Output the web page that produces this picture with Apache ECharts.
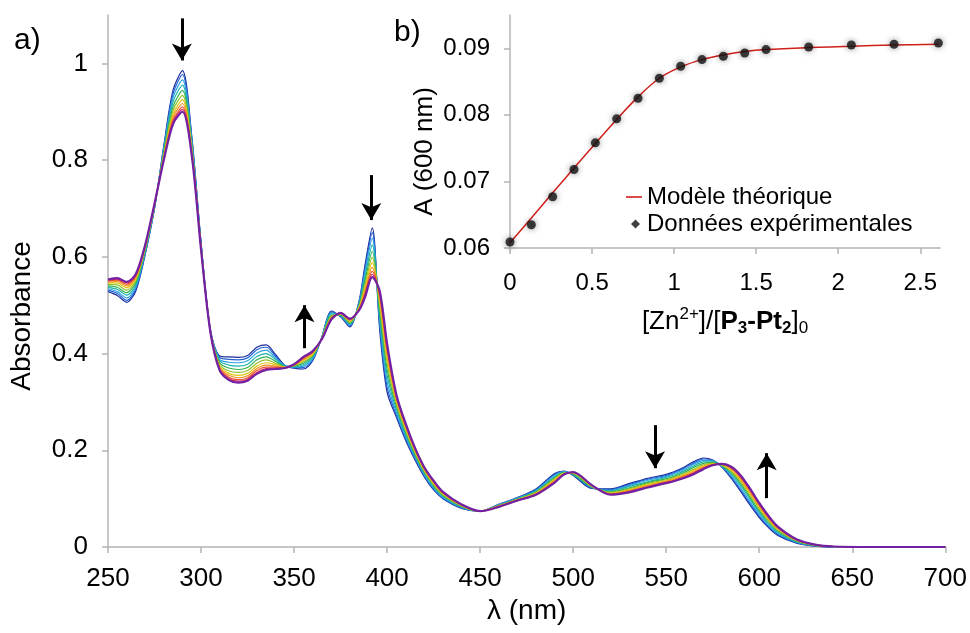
<!DOCTYPE html>
<html><head><meta charset="utf-8">
<script src="https://cdn.jsdelivr.net/npm/echarts@6/dist/echarts.min.js"></script>
<style>html,body{margin:0;padding:0;background:#fff}#chart{width:970px;height:633px}</style>
</head><body><div id="chart"></div>
<script>
const wavelengths = [250,255,260,265,270,275,280,285,290,295,300,305,310,315,320,325,330,335,340,345,350,355,360,365,370,375,380,385,388,392,396,400,405,410,415,420,425,430,440,450,460,470,480,490,495,500,510,520,530,540,550,555,560,565,570,575,580,585,590,595,600,605,610,620,630,640,660,700];

const abs00 = [.528,.520,.506,.530,.605,.700,.830,.945,.985,.850, .630,.450,.395,.393,.392,.396,.413,.418,.398,.376, .370,.368,.385,.435,.488,.476,.455,.510,.580,.660, .450,.320,.268,.220,.180,.145,.118,.100,.080,.074, .088,.102,.120,.152,.157,.148,.121,.120,.131,.142, .150,.157,.166,.177,.184,.180,.165,.142,.115,.087, .061,.040,.024,.008,.002,0,0,0];
const abs01 = [.531,.524,.510,.534,.607,.701,.827,.938,.977,.846, .629,.450,.392,.388,.387,.391,.408,.413,.395,.375, .371,.371,.387,.435,.486,.477,.457,.508,.574,.650, .458,.330,.273,.224,.183,.147,.120,.101,.081,.074, .088,.101,.119,.150,.156,.149,.122,.119,.129,.140, .148,.155,.164,.174,.182,.179,.166,.144,.118,.090, .064,.042,.026,.009,.002,0,0,0];
const abs02 = [.534,.528,.515,.538,.609,.702,.823,.930,.966,.841, .627,.449,.388,.382,.381,.385,.401,.407,.391,.375, .372,.374,.389,.434,.484,.478,.459,.506,.566,.638, .468,.342,.278,.228,.186,.149,.122,.103,.082,.074, .087,.101,.117,.148,.156,.150,.123,.117,.127,.138, .146,.153,.161,.171,.179,.178,.167,.147,.122,.094, .068,.045,.028,.010,.003,0,0,0];
const abs03 = [.537,.533,.521,.542,.612,.704,.820,.921,.955,.836, .625,.448,.385,.376,.374,.378,.394,.400,.388,.374, .373,.377,.392,.433,.482,.479,.461,.503,.557,.624, .478,.355,.284,.232,.189,.152,.125,.105,.083,.074, .086,.100,.116,.145,.155,.150,.124,.116,.125,.135, .144,.150,.158,.168,.176,.176,.167,.150,.127,.099, .072,.048,.030,.011,.003,0,0,0];
const abs04 = [.540,.537,.526,.547,.615,.705,.816,.911,.944,.831, .623,.448,.381,.370,.367,.371,.387,.393,.384,.373, .374,.380,.395,.433,.479,.480,.463,.500,.549,.611, .488,.368,.291,.237,.192,.155,.127,.107,.084,.074, .086,.099,.114,.143,.154,.151,.124,.114,.122,.133, .141,.147,.155,.165,.173,.175,.168,.154,.131,.103, .075,.052,.033,.012,.003,0,0,0];
const abs05 = [.543,.542,.531,.551,.617,.706,.812,.903,.934,.826, .621,.447,.377,.364,.361,.365,.380,.387,.380,.372, .375,.383,.397,.432,.477,.481,.465,.498,.541,.599, .498,.380,.296,.241,.195,.157,.129,.108,.085,.074, .085,.098,.113,.141,.153,.152,.125,.113,.120,.131, .139,.145,.152,.161,.170,.173,.169,.156,.135,.107, .079,.054,.035,.013,.004,.001,0,0];
const abs06 = [.546,.546,.536,.555,.619,.707,.809,.895,.925,.822, .619,.447,.374,.359,.355,.359,.374,.381,.377,.372, .376,.386,.399,.432,.475,.482,.467,.496,.534,.588, .507,.391,.301,.245,.198,.159,.131,.110,.086,.074, .085,.098,.111,.139,.152,.153,.126,.111,.118,.129, .137,.143,.150,.159,.168,.172,.170,.159,.138,.111, .082,.057,.037,.014,.004,.001,0,0];
const abs07 = [.548,.549,.540,.558,.621,.708,.806,.889,.917,.818, .618,.446,.371,.355,.350,.354,.369,.376,.374,.371, .376,.388,.401,.431,.474,.482,.469,.494,.528,.578, .514,.400,.306,.248,.200,.161,.133,.111,.086,.074, .084,.097,.110,.137,.151,.154,.127,.110,.117,.127, .136,.141,.148,.156,.166,.171,.171,.161,.141,.114, .085,.059,.038,.014,.004,.001,0,0];
const abs08 = [.550,.552,.543,.561,.623,.709,.804,.883,.910,.815, .617,.446,.369,.351,.346,.350,.365,.372,.372,.371, .377,.390,.403,.431,.472,.483,.470,.492,.523,.570, .520,.408,.309,.251,.202,.163,.135,.112,.087,.074, .084,.097,.109,.135,.151,.154,.127,.109,.115,.125, .134,.139,.146,.154,.164,.170,.171,.163,.144,.117, .087,.061,.040,.015,.005,.001,0,0];
const abs09 = [.552,.554,.546,.563,.624,.709,.802,.879,.905,.812, .616,.445,.367,.348,.343,.347,.361,.369,.370,.370, .378,.392,.404,.430,.471,.484,.471,.491,.519,.564, .525,.414,.312,.253,.204,.164,.136,.113,.088,.074, .083,.096,.109,.134,.150,.155,.128,.109,.114,.124, .133,.138,.144,.153,.162,.170,.172,.165,.146,.119, .089,.063,.041,.015,.005,.001,0,0];
const abs10 = [.553,.556,.548,.565,.625,.710,.800,.875,.900,.810, .615,.445,.365,.345,.340,.344,.358,.366,.368,.370, .378,.393,.405,.430,.470,.484,.472,.490,.515,.558, .530,.420,.315,.255,.205,.165,.137,.114,.088,.074, .083,.096,.108,.133,.150,.155,.128,.108,.113,.123, .132,.137,.143,.151,.161,.169,.172,.166,.148,.121, .091,.064,.042,.016,.005,.001,0,0];

const spectra = [abs00,abs01,abs02,abs03,abs04,abs05,abs06,abs07,abs08,abs09,abs10];
const spectrumColors = ['#1b2b9c','#2463d4','#2fa2e2','#1db3ac','#2fb24f','#93c22e','#e2c30f','#f29320','#e9532f','#d0215e','#7321a3'];

// inset (b)
const ratioZn = [0,0.13,0.26,0.39,0.52,0.65,0.78,0.91,1.04,1.17,1.30,1.43,1.56,1.82,2.08,2.34,2.61];
const absAt600 = [0.0609,0.0635,0.0677,0.0718,0.0758,0.0794,0.0825,0.0855,0.0873,0.0883,0.0888,0.0893,0.0898,0.0902,0.0905,0.0906,0.0908];
const fitRatio = [0,0.13,0.26,0.39,0.52,0.65,0.78,0.91,1.04,1.17,1.30,1.43,1.56,1.82,2.08,2.34,2.61];
const fitAbs = [0.0608,0.0645,0.0683,0.0720,0.0757,0.0793,0.0827,0.0855,0.0872,0.0883,0.0890,0.0895,0.0898,0.0901,0.0903,0.0905,0.0906];

// arrows: [lambda, fromA, toA]
const arrowMarks = [[289.7,1.093,1.006],[391.5,0.769,0.676],[355.6,0.411,0.500],[544,0.252,0.163],[604,0.101,0.194]];

const FONT = "'Liberation Sans', Arial, sans-serif";
const axisGray = '#b4b4b4';

const chart = echarts.init(document.getElementById('chart'), null, {renderer:'canvas'});

const series = spectra.map((arr, k) => ({
  type:'line', xAxisIndex:0, yAxisIndex:0,
  data: wavelengths.map((w,i)=>[w, arr[i]]),
  showSymbol:false, symbol:'none', smooth:0.3, silent:true,
  lineStyle:{color:spectrumColors[k], width: k===spectra.length-1 ? 2.2 : 1.2},
  z: 2 + k,
  animation:false
}));

series.push({
  type:'line', xAxisIndex:0, yAxisIndex:0, data:[], silent:true, z:20,
  markLine:{
    silent:true, symbol:['none','arrow'], symbolSize:[15,17], animation:false,
    label:{show:false},
    lineStyle:{color:'#000', width:3, type:'solid'},
    emphasis:{disabled:true},
    data: arrowMarks.map(a=>[{coord:[a[0],a[1]]},{coord:[a[0],a[2]]}])
  }
});

series.push({
  name:'Modèle théorique', type:'line', xAxisIndex:1, yAxisIndex:1,
  data: fitRatio.map((x,i)=>[x, fitAbs[i]]),
  showSymbol:false, symbol:'none', smooth:0.35,
  itemStyle:{color:'#d0201a'},
  lineStyle:{color:'#d0201a', width:1.5}, z:5, animation:false
});
series.push({
  name:'Données expérimentales', type:'scatter', xAxisIndex:1, yAxisIndex:1,
  data: ratioZn.map((x,i)=>[x, absAt600[i]]),
  symbol:'circle', symbolSize:9,
  itemStyle:{color:'#111', shadowBlur:6, shadowColor:'rgba(0,0,0,0.55)'}, z:6, animation:false
});

const mainLabel = {color:'#000', fontFamily:FONT, fontSize:26};
const insetLabel = {color:'#000', fontFamily:FONT, fontSize:24};

const option = {
  backgroundColor:'#fff',
  animation:false,
  textStyle:{fontFamily:FONT},
  grid:[
    {left:108, right:23, top:15, bottom:86, containLabel:false},
    {left:510, right:30, top:15, bottom:385, containLabel:false}
  ],
  xAxis:[
    {type:'value', gridIndex:0, min:250, max:700, interval:50,
     name:'λ (nm)', nameLocation:'middle', nameGap:46,
     nameTextStyle:{color:'#000', fontFamily:FONT, fontSize:28},
     axisLine:{lineStyle:{color:axisGray, width:1.5}},
     axisTick:{show:true, length:6, lineStyle:{color:axisGray, width:1.5}},
     axisLabel:Object.assign({margin:19}, mainLabel),
     splitLine:{show:false}},
    {type:'value', gridIndex:1, min:0, max:2.62, interval:0.5,
     name:'[Zn{sup|2+}]/[{b|P}{bsub|3}{b|-Pt}{bsub|2}]{sub|0}', nameLocation:'middle', nameGap:58,
     nameTextStyle:{color:'#000', fontFamily:FONT, fontSize:26,
       rich:{
         sup:{fontSize:17, verticalAlign:'top', padding:[0,0,12,0], fontFamily:FONT, color:'#000'},
         b:{fontWeight:'bold', fontSize:26, fontFamily:FONT, color:'#000'},
         bsub:{fontWeight:'bold', fontSize:17, padding:[14,0,0,0], fontFamily:FONT, color:'#000'},
         sub:{fontSize:17, padding:[14,0,0,0], fontFamily:FONT, color:'#000'}
       }},
     axisLine:{onZero:false, lineStyle:{color:axisGray, width:1.5}},
     axisTick:{show:true, length:6, lineStyle:{color:axisGray, width:1.5}},
     axisLabel:Object.assign({margin:23, showMaxLabel:false}, insetLabel),
     splitLine:{show:false}},
  ],
  yAxis:[
    {type:'value', gridIndex:0, min:0, max:1.1, interval:0.2,
     name:'Absorbance', nameLocation:'middle', nameGap:72,
     nameTextStyle:{color:'#000', fontFamily:FONT, fontSize:28, padding:[0,70,0,0]},
     axisLine:{show:true, lineStyle:{color:axisGray, width:1.5}},
     axisTick:{show:true, length:6, lineStyle:{color:axisGray, width:1.5}},
     axisLabel:Object.assign({margin:20, showMaxLabel:false}, mainLabel),
     splitLine:{show:false}},
    {type:'value', gridIndex:1, min:0.06, max:0.095, interval:0.01,
     name:'A (600 nm)', nameLocation:'middle', nameGap:72,
     nameTextStyle:{color:'#000', fontFamily:FONT, fontSize:26, padding:[0,40,0,0]},
     axisLine:{show:true, onZero:false, lineStyle:{color:axisGray, width:1.5}},
     axisTick:{show:true, length:6, lineStyle:{color:axisGray, width:1.5}},
     axisLabel:Object.assign({margin:20, showMaxLabel:false, formatter:v=>v.toFixed(2)}, insetLabel),
     splitLine:{show:false}}
  ],
  legend:[
    {data:[{name:'Modèle théorique', icon:'rect', itemStyle:{color:'#d0201a'}}], left:621, top:180, orient:'vertical',
     itemWidth:16, itemHeight:1.6, selectedMode:false,
     textStyle:{color:'#000', fontFamily:FONT, fontSize:24, padding:[0,0,0,0]}},
    {data:[{name:'Données expérimentales', icon:'diamond', itemStyle:{color:'#111'}}], left:626, top:207, orient:'vertical',
     itemWidth:9, itemHeight:9, selectedMode:false,
     textStyle:{color:'#000', fontFamily:FONT, fontSize:24, padding:[0,0,0,2]}}
  ],
  graphic:[
    {type:'text', left:14, top:26, style:{text:'a)', fill:'#000', font:'30px '+FONT}},
    {type:'text', left:394, top:18, style:{text:'b)', fill:'#000', font:'30px '+FONT}}
  ],
  series: series
};
chart.setOption(option);
</script></body></html>
